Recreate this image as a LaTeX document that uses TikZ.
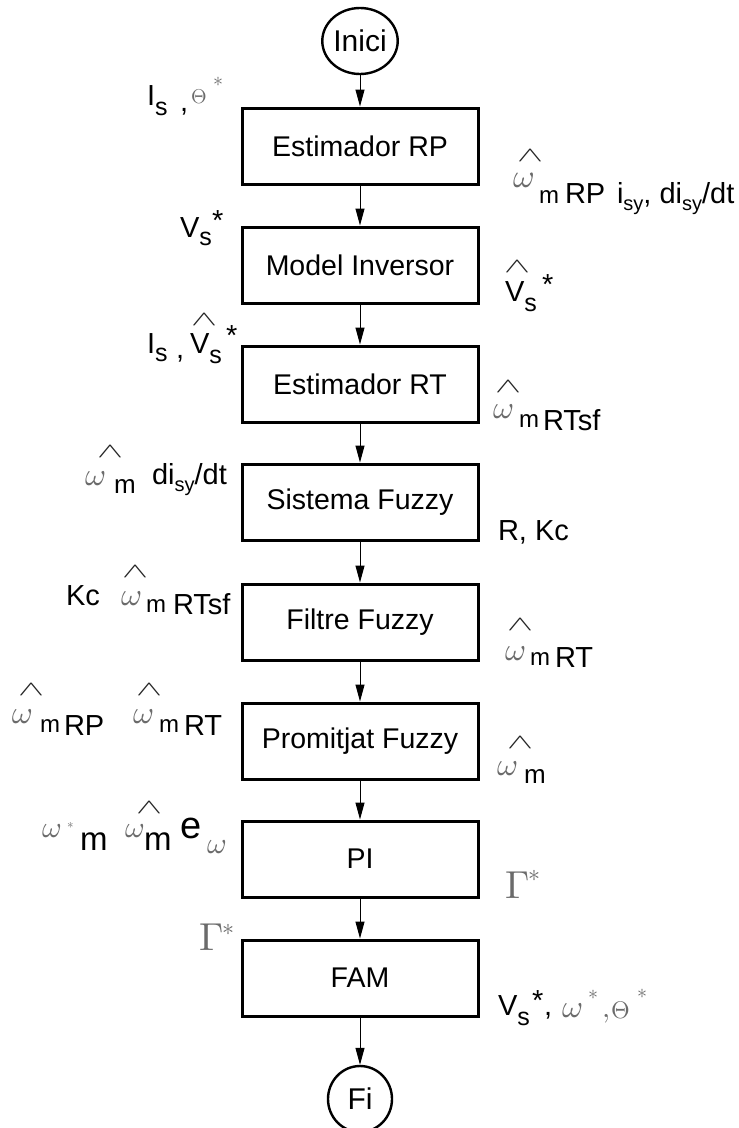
\documentclass[tikz,border=0pt]{standalone}
\usepackage[no-math]{fontspec}
\setmainfont{Liberation Sans}
\usetikzlibrary{arrows.meta,shapes.geometric}
\definecolor{mgray}{gray}{0.42}
\definecolor{hgray}{gray}{0.15}
\newcommand\Fs[1]{\fontsize{#1}{#1}\selectfont}
\newcommand\gm[2]{\scalebox{#1}{\fontsize{10}{12}\selectfont$#2$}}
\newcommand\hatg{\scalebox{3.9}[2.09]{\fontsize{10}{12}\selectfont$\wedge$}}
\begin{document}
\begin{tikzpicture}[x=1pt,y=-1pt,
  box/.style={draw, line width=3pt, minimum width=236pt, minimum height=76pt, inner sep=0pt, font=\Fs{28.5}},
  term/.style={draw, ellipse, line width=2.4pt, minimum width=64pt, minimum height=66pt, inner sep=0pt, font=\Fs{30}},
  flow/.style={line width=1pt, -{Triangle[length=17pt,width=9pt]}},
  lab/.style={inner sep=0pt, outer sep=0pt, anchor=base west, font=\Fs{29}},
  gr/.style={lab, text=mgray},
  hat/.style={inner sep=0pt, outer sep=0pt, anchor=south, text=hgray}]
\useasboundingbox (0,0) rectangle (739,1128);
\fill[white] (0,0) rectangle (739,1128);
% flow
\node[term] (start) at (360,41) {Inici};
\node[box] (s1) at (360,146) {Estimador RP};
\node[box] (s2) at (360,265) {Model Inversor};
\node[box] (s3) at (360,384) {Estimador RT};
\node[box] (s4) at (360,502) {Sistema Fuzzy};
\node[box] (s5) at (360,622) {Filtre Fuzzy};
\node[box] (s6) at (360,741) {Promitjat Fuzzy};
\node[box] (s7) at (360,859) {PI};
\node[box] (s8) at (360,978) {FAM};
\node[term] (stop) at (360,1099) {Fi};
\foreach \a/\b in {start/s1,s1/s2,s2/s3,s3/s4,s4/s5,s5/s6,s6/s7,s7/s8,s8/stop}
  \draw[flow] (\a.south) -- (\b.north);
% A
\node[lab] (a1) at (147,105) {I\raisebox{-10pt}{\Fs{25}s}};
\node[lab] (a2) at (180,111) {,};
\node[gr] (a3) at (191,103) {\gm{2}{\Theta}};
\node[gr] (a4) at (213,86) {\gm{2}{\ast}};
% B
\node[lab] (b1) at (180,237) {V\raisebox{-8pt}{\Fs{25}s}};
\node[lab] (b2) at (212,230) {*};
% C
\node[hat] (c0) at (530,161) {\hatg};
\node[gr] (c1) at (513,187) {\gm{3.3}{\omega}};
\node[lab,font=\Fs{24}] (c2) at (539,203) {m};
\node[lab] (c3) at (565,203) {RP};
\node[lab] (c4) at (617,203) {i\raisebox{-7pt}{\Fs{20}sy}, di\raisebox{-7pt}{\Fs{20}sy}/dt};
% D
\node[hat] (d0) at (517,272) {\hatg};
\node[lab] (d1) at (505,301) {V\raisebox{-10pt}{\Fs{25}s}};
\node[lab] (d2) at (542,294) {*};
% E
\node[lab] (e1) at (147,353) {I\raisebox{-8pt}{\Fs{25}s}};
\node[lab] (e2) at (176,358) {,};
\node[hat] (e0) at (204,325) {\hatg};
\node[lab] (e3) at (190,353) {V\raisebox{-10pt}{\Fs{25}s}};
\node[lab] (e4) at (226,345) {*};
% F
\node[hat] (f0) at (508,392) {\hatg};
\node[gr] (f1) at (493,418) {\gm{3.2}{\omega}};
\node[lab,font=\Fs{24}] (f2) at (519,427) {m};
\node[lab] (f3) at (543,430) {RTsf};
% G
\node[hat] (g0) at (110,457) {\hatg};
\node[gr] (g1) at (85,485) {\gm{3.2}{\omega}};
\node[lab,font=\Fs{26}] (g2) at (114,493) {m};
\node[lab] (g3) at (152,484) {di\raisebox{-7pt}{\Fs{20}sy}/dt};
% H
\node[lab] (h1) at (498,540) {R, Kc};
% I
\node[lab] (i1) at (66,605) {Kc};
\node[hat] (i0) at (135,577) {\hatg};
\node[gr] (i2) at (121,605) {\gm{3.2}{\omega}};
\node[lab,font=\Fs{24}] (i3) at (146,612) {m};
\node[lab] (i4) at (173,614) {RTsf};
% J
\node[hat] (j0) at (520,630) {\hatg};
\node[gr] (j1) at (505,660) {\gm{3.2}{\omega}};
\node[lab,font=\Fs{24}] (j2) at (530,665) {m};
\node[lab] (j3) at (555,667) {RT};
% K
\node[hat] (k0) at (31,695) {\hatg};
\node[gr] (k1) at (12,723) {\gm{3.2}{\omega}};
\node[lab,font=\Fs{24}] (k2) at (40,732) {m};
\node[lab] (k3) at (64,735) {RP};
\node[hat] (k4) at (149,695) {\hatg};
\node[gr] (k5) at (133,723) {\gm{3.2}{\omega}};
\node[lab,font=\Fs{24}] (k6) at (159,732) {m};
\node[lab] (k7) at (184,735) {RT};
% L
\node[hat] (l0) at (520,748) {\hatg};
\node[gr] (l1) at (497,775) {\gm{3.2}{\omega}};
\node[lab,font=\Fs{26}] (l2) at (524,783) {m};
% M
\node[gr] (m1) at (42,837) {\gm{3}{\omega}};
\node[gr] (m2) at (67,828) {\gm{1.3}{\ast}};
\node[lab,font=\Fs{33}] (m3) at (80,850) {m};
\node[hat] (m4) at (149,813) {\hatg};
\node[gr] (m5) at (125,837) {\gm{3}{\omega}};
\node[lab,font=\Fs{33}] (m6) at (144,850) {m};
\node[lab,font=\Fs{38}] (m7) at (180,838) {e};
\node[gr] (m8) at (207,853) {\gm{3}{\omega}};
% N
\node[gr] (n1) at (505,898) {\gm{3.9}{\Gamma}};
\node[gr] (n2) at (528,881) {\gm{2.4}{\ast}};
% O
\node[gr] (o1) at (199,950) {\gm{3.9}{\Gamma}};
\node[gr] (o2) at (222,935) {\gm{2.4}{\ast}};
% P
\node[lab] (p1) at (498,1015) {V\raisebox{-10pt}{\Fs{25}s}};
\node[lab] (p2) at (532,1010) {*};
\node[lab] (p3) at (544,1015) {,};
\node[gr] (p4) at (562,1017) {\gm{3.2}{\omega}};
\node[gr] (p5) at (588,999) {\gm{2}{\ast}};
\node[gr] (p6) at (602,1017) {\gm{2.9}{,}};
\node[gr] (p7) at (611,1018) {\gm{2.4}{\Theta}};
\node[gr] (p8) at (637,998) {\gm{2}{\ast}};
\end{tikzpicture}
\end{document}
